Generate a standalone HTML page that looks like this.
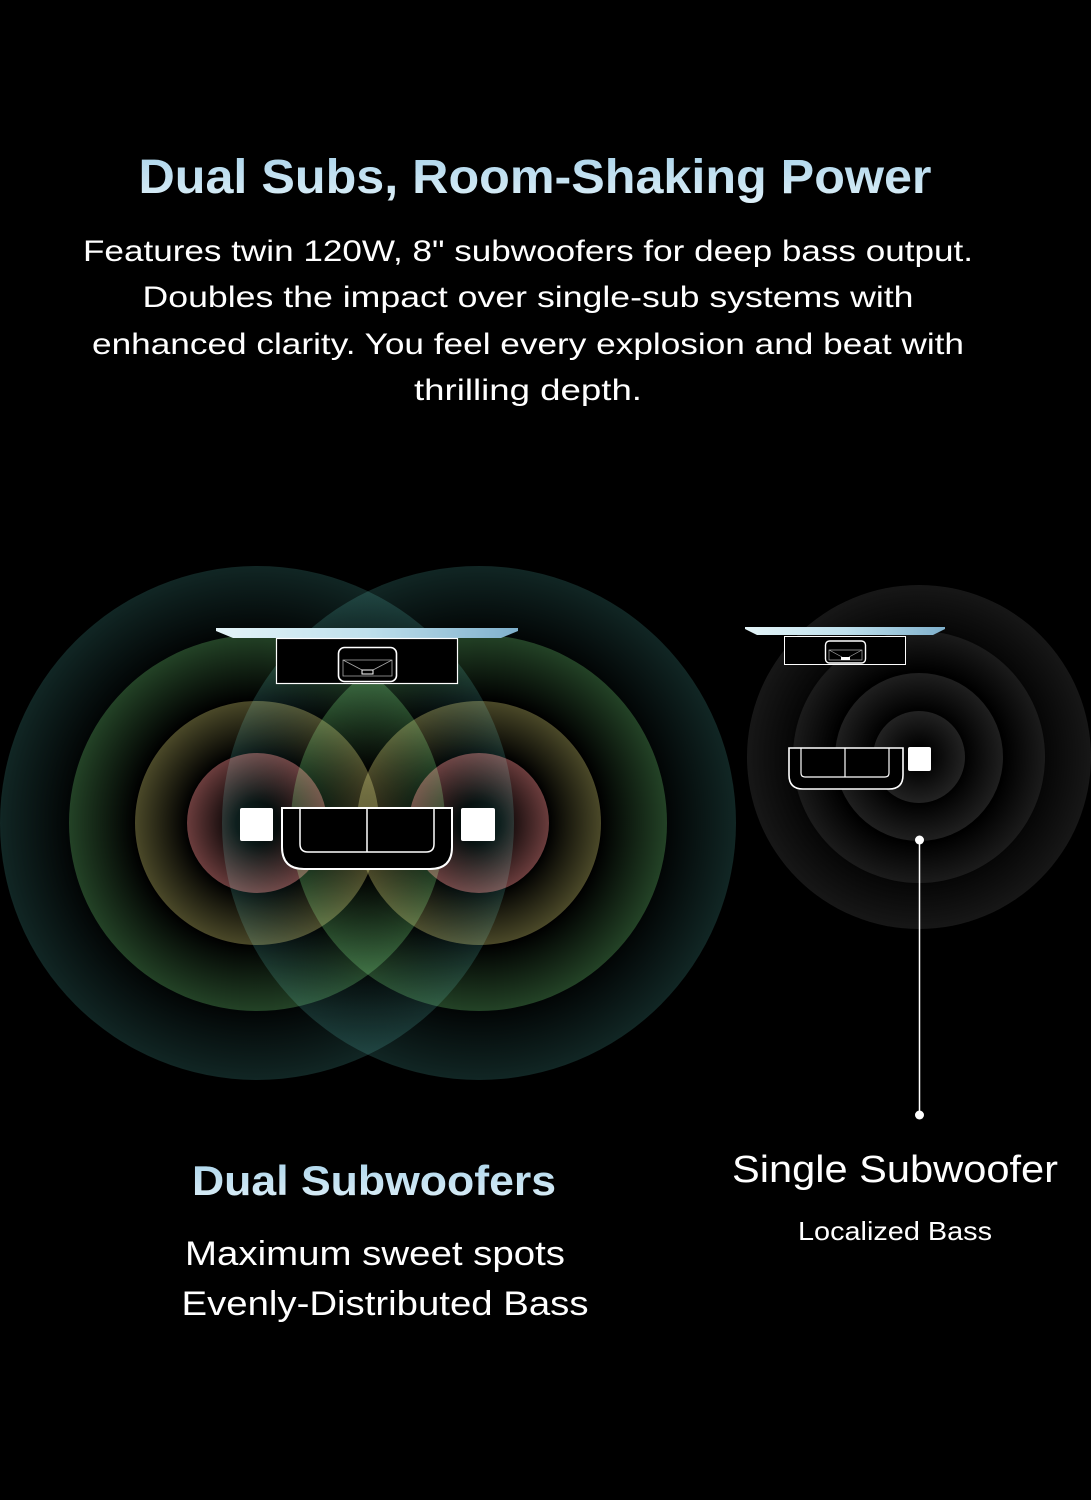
<!DOCTYPE html>
<html><head><meta charset="utf-8"><style>
html,body{margin:0;padding:0;background:#000;}
svg{display:block;}
text{font-family:"Liberation Sans",sans-serif;}
</style></head><body>
<svg width="1091" height="1500" viewBox="0 0 1091 1500" xmlns="http://www.w3.org/2000/svg">
<defs>
<linearGradient id="tg" x1="0" y1="0" x2="0" y2="1"><stop offset="0" stop-color="#a9d3ea"/><stop offset="1" stop-color="#dff0f8"/></linearGradient>
<linearGradient id="tv" x1="0" y1="0" x2="1" y2="0"><stop offset="0" stop-color="#e4f4f8"/><stop offset="0.5" stop-color="#bfe0ec"/><stop offset="1" stop-color="#7fb0cc"/></linearGradient>
<radialGradient id="g1"><stop offset="0.73" stop-color="#020505"/><stop offset="1" stop-color="#112624"/></radialGradient>
<radialGradient id="g2"><stop offset="0.65" stop-color="#000"/><stop offset="1" stop-color="#234226"/></radialGradient>
<radialGradient id="g3"><stop offset="0.57" stop-color="#000"/><stop offset="1" stop-color="#4a4828"/></radialGradient>
<radialGradient id="g4"><stop offset="0.3" stop-color="#000"/><stop offset="1" stop-color="#6a3c3c"/></radialGradient>
<radialGradient id="s1"><stop offset="0.7" stop-color="#040404"/><stop offset="1" stop-color="#171717"/></radialGradient>
<radialGradient id="s2"><stop offset="0.68" stop-color="#000"/><stop offset="1" stop-color="#1b1b1b"/></radialGradient>
<radialGradient id="s3"><stop offset="0.54" stop-color="#000"/><stop offset="1" stop-color="#1f1f1f"/></radialGradient>
<radialGradient id="s4"><stop offset="0.2" stop-color="#000"/><stop offset="1" stop-color="#222"/></radialGradient>
</defs>
<rect width="1091" height="1500" fill="#000"/>

<text x="535" y="193" text-anchor="middle" font-size="48" font-weight="bold" fill="url(#tg)" textLength="793" lengthAdjust="spacingAndGlyphs">Dual Subs, Room-Shaking Power</text>
<g fill="#fff" font-size="30" text-anchor="middle">
<text x="528" y="261" textLength="890" lengthAdjust="spacingAndGlyphs">Features twin 120W, 8" subwoofers for deep bass output.</text>
<text x="528" y="307" textLength="771" lengthAdjust="spacingAndGlyphs">Doubles the impact over single-sub systems with</text>
<text x="528" y="354" textLength="872" lengthAdjust="spacingAndGlyphs">enhanced clarity. You feel every explosion and beat with</text>
<text x="528" y="400" textLength="228" lengthAdjust="spacingAndGlyphs">thrilling depth.</text>
</g>

<g>
<circle cx="257" cy="823" r="257" fill="url(#g1)"/>
<circle cx="257" cy="823" r="188" fill="url(#g2)"/>
<circle cx="257" cy="823" r="122" fill="url(#g3)"/>
<circle cx="257" cy="823" r="70" fill="url(#g4)"/>
</g>
<g style="mix-blend-mode:screen">
<circle cx="479" cy="823" r="257" fill="url(#g1)"/>
<circle cx="479" cy="823" r="188" fill="url(#g2)"/>
<circle cx="479" cy="823" r="122" fill="url(#g3)"/>
<circle cx="479" cy="823" r="70" fill="url(#g4)"/>
</g>

<polygon points="216,628 518,628 518,631 501,638 233,638 216,631" fill="url(#tv)"/>
<rect x="276.5" y="638.5" width="181" height="45" fill="#000" stroke="#fff" stroke-width="1.2"/>
<rect x="338.5" y="647.5" width="58" height="34" rx="6" fill="#000" stroke="#fff" stroke-width="1.6"/>
<path d="M343 660 L392 660 L392 676 L343 676 Z M343 660 L362 670 M392 660 L373 670" fill="none" stroke="#aaa" stroke-width="0.8"/>
<rect x="362" y="670" width="11" height="4" fill="#000" stroke="#fff" stroke-width="1"/>

<path d="M282 808 L452 808 L452 847 Q452 869 430 869 L304 869 Q282 869 282 847 Z" fill="#000" stroke="#fff" stroke-width="2"/>
<path d="M300 808 L300 844 Q300 852 308 852 L426 852 Q434 852 434 844 L434 808 M367 808 L367 852" fill="none" stroke="#fff" stroke-width="1.5"/>
<rect x="240" y="808" width="33" height="33" rx="2" fill="#fff"/>
<rect x="461" y="808" width="34" height="33" rx="2" fill="#fff"/>

<circle cx="919" cy="757" r="172" fill="url(#s1)"/>
<circle cx="919" cy="757" r="126" fill="url(#s2)"/>
<circle cx="919" cy="757" r="84" fill="url(#s3)"/>
<circle cx="919" cy="757" r="46" fill="url(#s4)"/>

<polygon points="745,627 945,627 945,629 933,635 757,635 745,629" fill="url(#tv)"/>
<rect x="784.5" y="636.5" width="121" height="28" fill="#000" stroke="#fff" stroke-width="1"/>
<rect x="825.5" y="641" width="40" height="22" rx="4" fill="#000" stroke="#fff" stroke-width="1.4"/>
<path d="M829 650 L862 650 L862 660 L829 660 Z M829 650 L842 657 M862 650 L849 657" fill="none" stroke="#aaa" stroke-width="0.7"/>
<rect x="841" y="657" width="9" height="3" fill="#fff"/>

<path d="M789 748 L903 748 L903 775 Q903 789 889 789 L803 789 Q789 789 789 775 Z" fill="#000" stroke="#fff" stroke-width="1.6"/>
<path d="M801 748 L801 773 Q801 777 805 777 L885 777 Q889 777 889 773 L889 748 M845 748 L845 777" fill="none" stroke="#fff" stroke-width="1.2"/>
<rect x="908" y="747" width="23" height="24" rx="2" fill="#fff"/>

<line x1="919.5" y1="840" x2="919.5" y2="1115" stroke="#fff" stroke-width="1.5"/>
<circle cx="919.5" cy="840" r="4.5" fill="#fff"/>
<circle cx="919.5" cy="1115" r="4.5" fill="#fff"/>

<text x="374" y="1195" text-anchor="middle" font-size="42" font-weight="bold" fill="url(#tg)" textLength="364" lengthAdjust="spacingAndGlyphs">Dual Subwoofers</text>
<text x="375" y="1265" text-anchor="middle" font-size="34" fill="#fff" textLength="380" lengthAdjust="spacingAndGlyphs">Maximum sweet spots</text>
<text x="385" y="1315" text-anchor="middle" font-size="34" fill="#fff" textLength="407" lengthAdjust="spacingAndGlyphs">Evenly-Distributed Bass</text>
<text x="895" y="1182" text-anchor="middle" font-size="38" fill="#fff" textLength="326" lengthAdjust="spacingAndGlyphs">Single Subwoofer</text>
<text x="895" y="1240" text-anchor="middle" font-size="26" fill="#fff" textLength="194" lengthAdjust="spacingAndGlyphs">Localized Bass</text>
</svg>
</body></html>
